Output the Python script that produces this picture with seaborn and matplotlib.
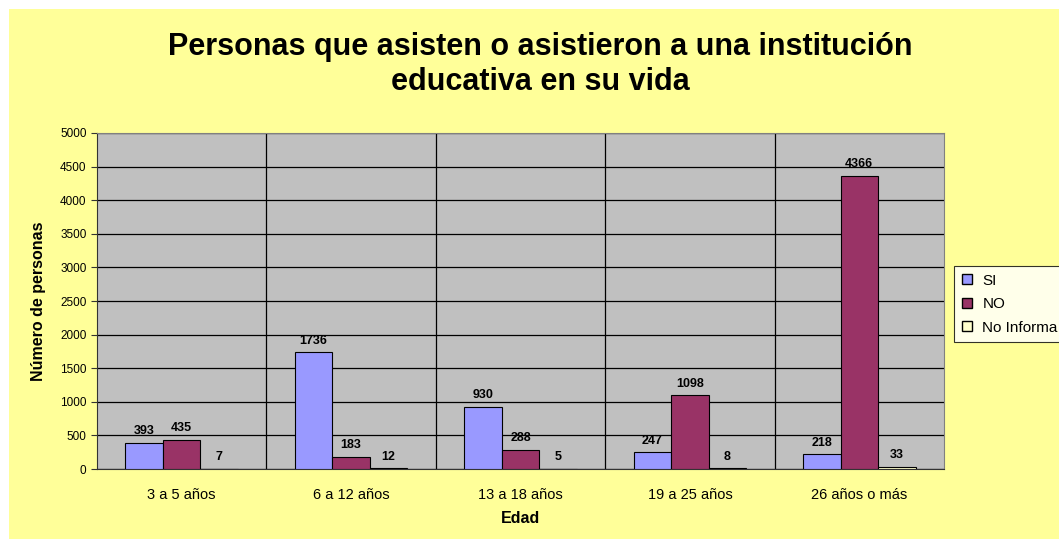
import pandas as pd
import matplotlib.pyplot as plt
import matplotlib.patches as mpatches
import seaborn as sns

edades = ['3 a 5 años', '6 a 12 años', '13 a 18 años', '19 a 25 años', '26 años o más']
si = [393, 1736, 930, 247, 218]
no = [435, 183, 288, 1098, 4366]
no_informa = [7, 12, 5, 8, 33]
series = ['SI', 'NO', 'No Informa']
colores = ['#9999FF', '#993366', '#FFFFCC']


def main():
    df = pd.DataFrame({'Edad': edades, 'SI': si, 'NO': no, 'No Informa': no_informa})
    df = df.melt(id_vars='Edad', var_name='Respuesta', value_name='Personas')

    sns.set_style('white')
    plt.rcParams['font.family'] = ['Liberation Sans', 'DejaVu Sans']
    plt.rcParams['text.color'] = 'black'
    plt.rcParams['axes.labelcolor'] = 'black'
    plt.rcParams['xtick.color'] = 'black'
    plt.rcParams['ytick.color'] = 'black'

    fig = plt.figure(figsize=(10.59, 5.39), dpi=100, facecolor='white')
    fig.patches.append(mpatches.Rectangle((9 / 1059, 0), 1, 1 - 9 / 539,
                                          transform=fig.transFigure,
                                          facecolor='#FFFF99', edgecolor='none', zorder=-10))
    ax = fig.add_axes([97 / 1059, 70 / 539, 847 / 1059, 336 / 539])
    ax.set_facecolor('#C0C0C0')

    sns.barplot(data=df, x='Edad', y='Personas', hue='Respuesta', hue_order=series,
                palette=colores, width=0.665, edgecolor='black', linewidth=0.8,
                saturation=1, ax=ax, legend=False, zorder=3)

    for cont in ax.containers:
        ax.bar_label(cont, padding=4, fontsize=9, fontweight='bold')

    ax.set_ylim(0, 5000)
    ax.set_xlim(-0.5, 4.5)
    ax.set_yticks(range(0, 5001, 500))
    ax.set_xticks([0.5, 1.5, 2.5, 3.5], minor=True)
    ax.grid(axis='y', color='black', linewidth=0.9, zorder=0)
    ax.grid(axis='x', which='minor', color='black', linewidth=0.9, zorder=0)
    ax.tick_params(axis='x', which='major', length=0, labelsize=10.5, pad=14)
    ax.tick_params(axis='x', which='minor', length=4, color='#333333')
    ax.tick_params(axis='y', length=4, labelsize=8.5, left=True, color='#333333')
    for s in ['top', 'right']:
        ax.spines[s].set_color('#808080')
    for s in ['left', 'bottom']:
        ax.spines[s].set_color('#333333')

    ax.set_xlabel('Edad', fontsize=11.5, fontweight='bold', labelpad=6)
    ax.set_ylabel('Número de personas', fontsize=11.5, fontweight='bold', labelpad=10)

    fig.text(0.51, 0.88, 'Personas que asisten o asistieron a una institución\neducativa en su vida',
             ha='center', va='center', fontsize=22, fontweight='bold', linespacing=1.22)

    handles = [mpatches.Patch(facecolor=c, edgecolor='black', label=s)
               for s, c in zip(series, colores)]
    leg = fig.legend(handles=handles, loc='upper left', bbox_to_anchor=(954 / 1059, 1 - 266 / 539),
                     frameon=True, fancybox=False, fontsize=11, handlelength=0.65,
                     handleheight=0.65, handletextpad=0.7, borderpad=0.5, labelspacing=0.62,
                     borderaxespad=0)
    leg.get_frame().set_edgecolor('black')
    leg.get_frame().set_facecolor('white')
    leg.get_frame().set_linewidth(0.8)

    fig.savefig('out.png', dpi=100, facecolor=fig.get_facecolor())


if __name__ == '__main__':
    main()
